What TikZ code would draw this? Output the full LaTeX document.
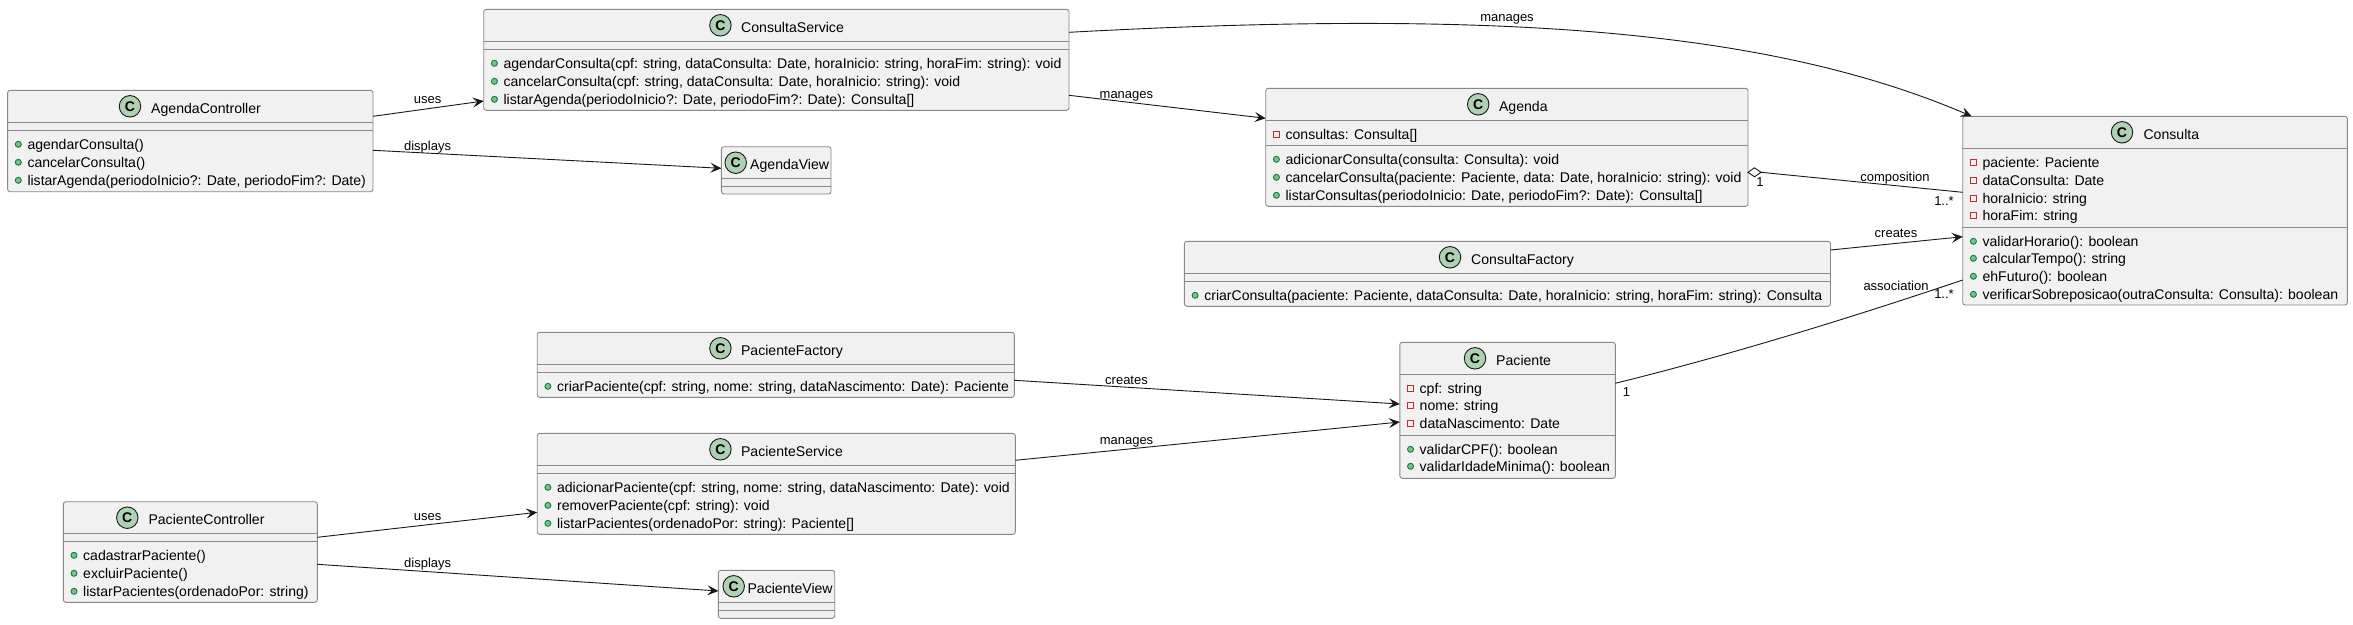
\documentclass[tikz,border=0pt]{standalone}
\usepackage{fontspec}
\setmainfont{Liberation Sans}
\usetikzlibrary{arrows.meta,calc}
\definecolor{boxfill}{HTML}{F1F1F1}
\definecolor{boxline}{HTML}{888888}
\definecolor{ink}{HTML}{181818}
\definecolor{spot}{HTML}{ADD1B2}
\definecolor{pubfill}{HTML}{84BE84}
\definecolor{publine}{HTML}{038048}
\definecolor{privline}{HTML}{C82930}
\newcounter{mc}
\tikzset{
  classbox/.style={draw=boxline,fill=boxfill,line width=0.9pt,rounded corners=2.5pt,outer sep=0pt,inner sep=0pt},
  sepline/.style={draw=boxline,line width=0.9pt},
  spotc/.style={circle,draw=ink,fill=spot,line width=0.9pt,minimum size=21.5pt,inner sep=0pt,font=\fontsize{14}{14}\selectfont\bfseries,text=black},
  titletext/.style={anchor=base west,inner sep=0pt,text=black,font=\fontsize{14.1}{14}\selectfont},
  membertext/.style={anchor=base west,inner sep=0pt,text=black,font=\fontsize{14.05}{14}\selectfont},
  pubicon/.style={circle,draw=publine,fill=pubfill,line width=0.9pt,minimum size=6pt,inner sep=0pt},
  privicon/.style={rectangle,draw=privline,fill=boxfill,line width=0.9pt,minimum size=6pt,inner sep=0pt},
  conn/.style={draw=ink,line width=0.9pt},
  arrowconn/.style={conn,-{Stealth[length=11pt,width=10pt,inset=4.5pt]}},
  edgelabel/.style={anchor=base,inner sep=0pt,text=black,font=\fontsize{13}{13}\selectfont},
}
% id x1 y1 x2 y2 title circlex titleoffset
\newcommand{\umlclass}[8]{%
  \node[classbox,minimum width={(#4-#2)*1pt},minimum height={(#5-#3)*1pt}] (#1) at ({(#2+#4)/2},{(#3+#5)/2}) {};
  \node[spotc] (#1-spot) at (#7,#3+16) {C};
  \node[titletext] (#1-title) at (#7+#8,#3+22.7) {#6};
}
\newcommand{\sepat}[2]{\draw[sepline] (#1.west |- 0,#2) -- (#1.east |- 0,#2);}
\newcommand{\pub}[3]{\stepcounter{mc}%
  \node[pubicon] (i\arabic{mc}) at ($(#1.west |- 0,#2)+(10.7,0)$) {};
  \node[membertext] (m\arabic{mc}) at ($(#1.west |- 0,#2)+(19.7,4.7)$) {#3};}
\newcommand{\priv}[3]{\stepcounter{mc}%
  \node[privicon] (i\arabic{mc}) at ($(#1.west |- 0,#2)+(10.7,0)$) {};
  \node[membertext] (m\arabic{mc}) at ($(#1.west |- 0,#2)+(19.7,4.7)$) {#3};}
\begin{document}
\begin{tikzpicture}[x=1pt,y=-1pt]
\useasboundingbox (0,0) rectangle (2353,624);
\umlclass{ac}{7.6}{90.3}{373}{191.7}{AgendaController}{130}{21}
\sepat{ac}{122.3}\sepat{ac}{130.3}
\pub{ac}{144.3}{agendarConsulta()}
\pub{ac}{162.3}{cancelarConsulta()}
\pub{ac}{180.3}{listarAgenda(periodoInicio?: Date, periodoFim?: Date)}

\umlclass{cs}{483.7}{9.3}{1069}{110.3}{ConsultaService}{720.4}{20.6}
\sepat{cs}{41.3}\sepat{cs}{49.3}
\pub{cs}{63.3}{agendarConsulta(cpf: string, dataConsulta: Date, horaInicio: string, horaFim: string): void}
\pub{cs}{81.3}{cancelarConsulta(cpf: string, dataConsulta: Date, horaInicio: string): void}
\pub{cs}{99.3}{listarAgenda(periodoInicio?: Date, periodoFim?: Date): Consulta[]}

\umlclass{av}{721.4}{146.7}{831}{194}{AgendaView}{735.7}{14.3}
\sepat{av}{178.3}\sepat{av}{186.3}

\umlclass{ag}{1265.7}{88.3}{1748}{206.3}{Agenda}{1478.2}{20.6}
\sepat{ag}{120.3}\sepat{ag}{145.3}
\priv{ag}{134.3}{consultas: Consulta[]}
\pub{ag}{159.3}{adicionarConsulta(consulta: Consulta): void}
\pub{ag}{177.3}{cancelarConsulta(paciente: Paciente, data: Date, horaInicio: string): void}
\pub{ag}{195.3}{listarConsultas(periodoInicio: Date, periodoFim?: Date): Consulta[]}

\umlclass{cf}{1184.4}{241.3}{1830.5}{306.3}{ConsultaFactory}{1450}{21}
\sepat{cf}{273.3}\sepat{cf}{281.3}
\pub{cf}{295.3}{criarConsulta(paciente: Paciente, dataConsulta: Date, horaInicio: string, horaFim: string): Consulta}

\umlclass{co}{1962.7}{116.3}{2347.3}{305}{Consulta}{2122}{21.3}
\sepat{co}{148.3}\sepat{co}{227.3}
\priv{co}{162.3}{paciente: Paciente}
\priv{co}{180.3}{dataConsulta: Date}
\priv{co}{198.3}{horaInicio: string}
\priv{co}{215.3}{horaFim: string}
\pub{co}{241.3}{validarHorario(): boolean}
\pub{co}{258.3}{calcularTempo(): string}
\pub{co}{276.3}{ehFuturo(): boolean}
\pub{co}{294.3}{verificarSobreposicao(outraConsulta: Consulta): boolean}

\umlclass{pf}{537.2}{332.3}{1014.3}{397.3}{PacienteFactory}{720.4}{20.4}
\sepat{pf}{364.3}\sepat{pf}{372.3}
\pub{pf}{386.3}{criarPaciente(cpf: string, nome: string, dataNascimento: Date): Paciente}

\umlclass{ps}{537.2}{433.3}{1015.3}{534.3}{PacienteService}{720.4}{20.4}
\sepat{ps}{465.3}\sepat{ps}{473.3}
\pub{ps}{487.3}{adicionarPaciente(cpf: string, nome: string, dataNascimento: Date): void}
\pub{ps}{505.3}{removerPaciente(cpf: string): void}
\pub{ps}{523.3}{listarPacientes(ordenadoPor: string): Paciente[]}

\umlclass{pa}{1399.8}{342.3}{1615.3}{478.3}{Paciente}{1475}{21}
\sepat{pa}{374.3}\sepat{pa}{435.3}
\priv{pa}{388.3}{cpf: string}
\priv{pa}{405.3}{nome: string}
\priv{pa}{423.3}{dataNascimento: Date}
\pub{pa}{449.3}{validarCPF(): boolean}
\pub{pa}{466.3}{validarIdadeMinima(): boolean}

\umlclass{pc}{63.3}{501.7}{317.3}{602.3}{PacienteController}{127.3}{21}
\sepat{pc}{533.3}\sepat{pc}{541.3}
\pub{pc}{555.3}{cadastrarPaciente()}
\pub{pc}{573.3}{excluirPaciente()}
\pub{pc}{591.3}{listarPacientes(ordenadoPor: string)}

\umlclass{pv}{718.4}{570.3}{834.7}{618.3}{PacienteView}{733.7}{13.6}
\sepat{pv}{602.3}\sepat{pv}{610.3}

% connectors
\draw[arrowconn] (ac.east |- 0,116.3) -- (cs.west |- 0,101);
\draw[arrowconn] (ac.east |- 0,150.3) -- (av.west |- 0,168.3);
\draw[arrowconn] (cs.east |- 0,32.3) .. controls (1500,9) and (1770,30) .. (co.north -| 1971.7,0);
\draw[arrowconn] (cs.east |- 0,95.3) -- (ag.west |- 0,118.3);
\draw[conn] (ag.east |- 0,172.3) -- ++(6.5,-4.5) -- ++(6.5,4.5) -- ++(-6.5,4.5) -- cycle;
\draw[conn] ($(ag.east |- 0,172.3)+(13,0)$) -- (co.west |- 0,192.3);
\draw[arrowconn] (cf.east |- 0,250) -- (co.west |- 0,236.7);
\draw[conn] (pa.east |- 0,383.3) .. controls (1730,355) and (1850,318) .. (co.west |- 0,280);
\draw[arrowconn] (pf.east |- 0,380.3) -- (pa.west |- 0,404);
\draw[arrowconn] (ps.east |- 0,460.3) -- (pa.west |- 0,422);
\draw[arrowconn] (pc.east |- 0,537.3) -- (ps.west |- 0,512.3);
\draw[arrowconn] (pc.east |- 0,564.3) -- (pv.west |- 0,591);

% labels
\node[edgelabel] (l1) at (427.6,103.3) {uses};
\node[edgelabel] (l2) at (427.6,150.3) {displays};
\node[edgelabel] (l3) at (1507,21.6) {manages};
\node[edgelabel] (l4) at (1126.4,98.6) {manages};
\node[edgelabel] (l5) at (1895,181) {composition};
\node[edgelabel] (l6) at (1760,186) {1};
\node[edgelabel] (l7) at (1944,205) {1..*};
\node[edgelabel] (l8) at (1896,237) {creates};
\node[edgelabel] (l9) at (1896,290) {association};
\node[edgelabel] (l10) at (1944,298) {1..*};
\node[edgelabel] (l11) at (1626.5,396) {1};
\node[edgelabel] (l12) at (1126.5,384.3) {creates};
\node[edgelabel] (l13) at (1126.5,444.3) {manages};
\node[edgelabel] (l14) at (427.7,520) {uses};
\node[edgelabel] (l15) at (427.7,567.7) {displays};
\end{tikzpicture}
\end{document}
